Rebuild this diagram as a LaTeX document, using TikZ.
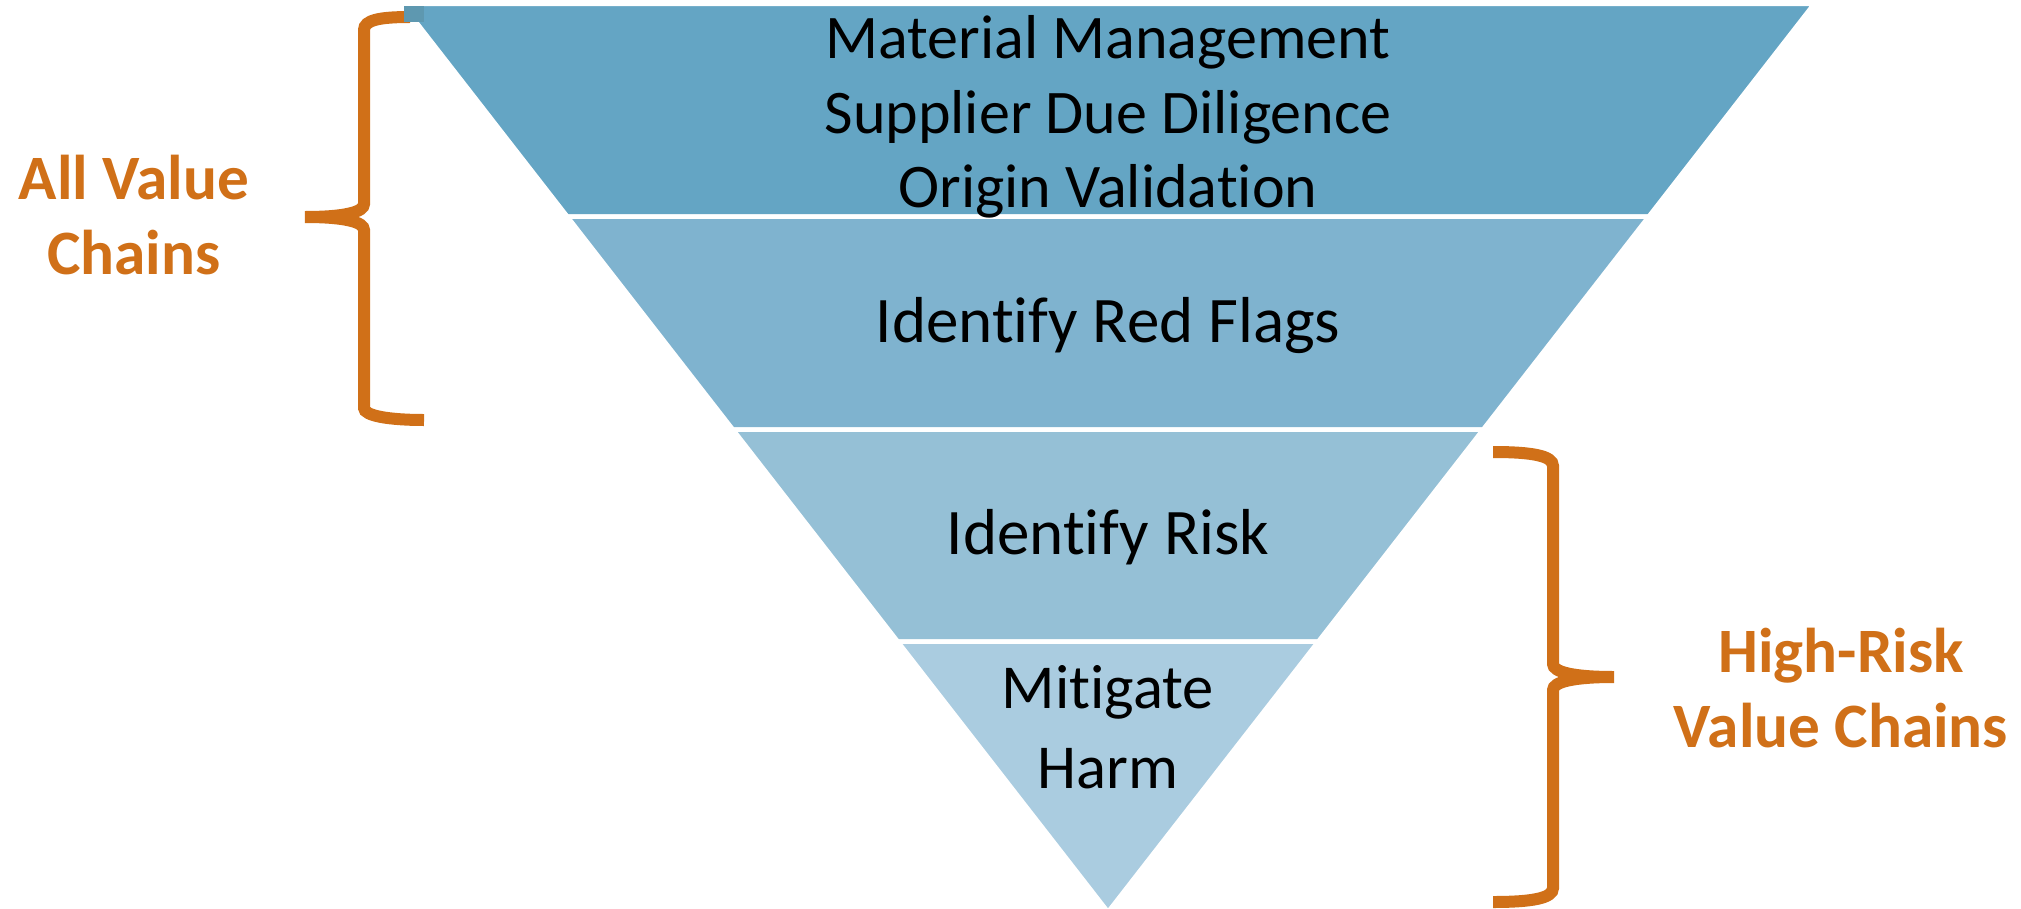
\documentclass[tikz,border=0pt]{standalone}
\usepackage{fontspec}
\setmainfont{Carlito}[Ligatures=NoCommon]
\usepackage{tikz}
\usetikzlibrary{positioning}
\definecolor{bandA}{HTML}{64A5C4}
\definecolor{bandB}{HTML}{7FB3CF}
\definecolor{bandC}{HTML}{95C0D6}
\definecolor{bandD}{HTML}{AACCE0}
\definecolor{cornerbit}{HTML}{5E98B0}
\definecolor{bracecol}{HTML}{D07018}
\pgfmathsetmacro{\topy}{4}
\pgfmathsetmacro{\tipy}{912}
\pgfmathsetmacro{\midx}{1108}
\pgfmathsetmacro{\slope}{706/908}
\tikzset{
  band/.style={draw=white, line width=0.09cm, line join=miter},
  brace/.style={draw=bracecol, line width=0.24cm},
  bandtext/.style={font=\fontsize{37}{44}\selectfont, align=center, inner sep=0pt},
  sidetext/.style={font=\bfseries\fontsize{36}{42.2}\selectfont, text=bracecol, align=center, inner sep=0pt}
}

\begin{document}
\begin{tikzpicture}[x=0.02cm, y=-0.02cm,
  declare function={lx(\t)=\midx-\slope*(\tipy-\t); rx(\t)=\midx+\slope*(\tipy-\t);}]
	\useasboundingbox (0,0) rectangle (2021,909);
	% braces behind the funnel
	\draw[brace] (410,17) .. controls (380,17) and (364,20) .. (364,30) -- (364,204)
		.. controls (364,212) and (345,217) .. (305,217)
		.. controls (345,217) and (364,222) .. (364,230) -- (364,408)
		.. controls (364,416) and (390,420) .. (424,420);
	\draw[brace] (1493,452) .. controls (1533,452) and (1553,456) .. (1553,466) -- (1553,664)
		.. controls (1553,672) and (1573,677) .. (1614,677)
		.. controls (1573,677) and (1553,682) .. (1553,690) -- (1553,888)
		.. controls (1553,898) and (1533,902) .. (1493,902);
	% the funnel bands
	\foreach \a/\b/\c in {\topy/216.5/bandA, 216.5/429.5/bandB, 429.5/641.5/bandC, 641.5/\tipy/bandD}
		\draw[band, fill=\c] ({lx(\a)},\a) -- ({rx(\a)},\a) -- ({rx(\b)},\b) -- ({lx(\b)},\b) -- cycle;
	\fill[cornerbit] (404,6) rectangle (424,22);
	% texts
	\node[bandtext, font=\fontsize{35.3}{42.5}\selectfont] (mat) at (1108,117) {Material Management\\Supplier Due Diligence\\Origin Validation};
	\node[bandtext] (flags) at (1108,326) {Identify Red Flags};
	\node[bandtext] (risk) at (1108,537) {Identify Risk};
	\node[bandtext, font=\fontsize{35.6}{45.3}\selectfont] (harm) at (1108,727) {Mitigate\\Harm};
	\node[sidetext] (allvc) at (134,215) {All Value\\Chains};
	\node[sidetext] (highvc) at (1841,688) {High-Risk\\Value Chains};
\end{tikzpicture}
\end{document}
